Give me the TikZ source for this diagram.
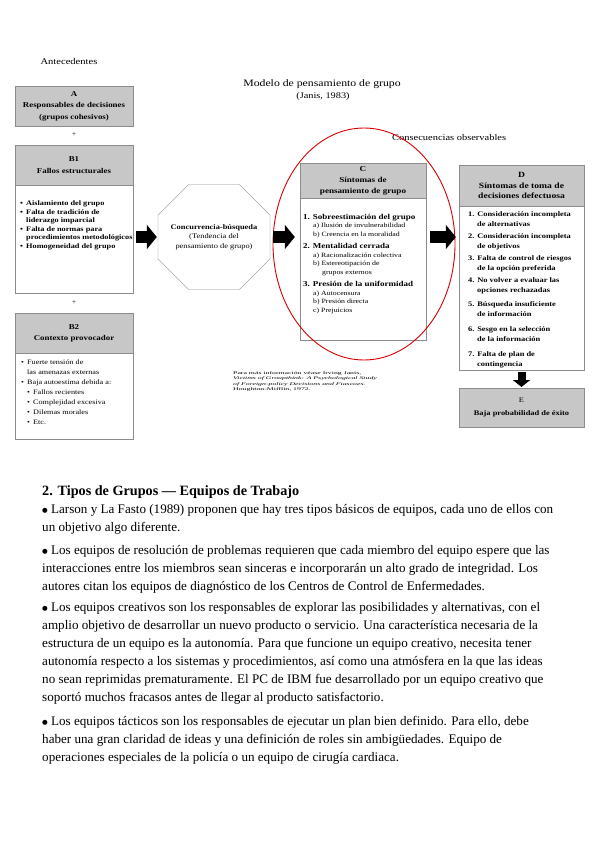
\documentclass[tikz,border=0pt]{standalone}
\usepackage{fontspec}
\setmainfont{Liberation Serif}
\newfontfamily\diagfont[FakeStretch=1.2]{Liberation Serif}
\newfontfamily\notefont[FakeStretch=1.9]{Liberation Serif}
\newfontfamily\symfont{DejaVu Sans}
\usetikzlibrary{shapes,arrows.meta}
\newcommand{\bitem}[1]{\makebox[6pt][l]{•}#1}
\newcommand{\bcont}[1]{\hspace*{6pt}#1}
\newcommand{\sitem}[1]{\hspace*{6pt}\makebox[6pt][l]{•}#1}
\newcommand{\bigdot}{\raisebox{1.2pt}{\symfont\fontsize{6.5}{7}\selectfont ●}}

\begin{document}
\begin{tikzpicture}[x=1pt,y=-1pt,
  hdrbox/.style={rectangle,draw=black!45,fill=black!22,minimum width=#1,minimum height=40pt,anchor=north,align=center,inner sep=1pt,font=\fontsize{7.4}{11.5}\selectfont\diagfont\bfseries},
  hdrbox/.default=118pt,
  bodybox/.style={rectangle,draw=black!45,fill=white,minimum width=#1,anchor=north,inner sep=0pt},
  bodybox/.default=118pt,
  itemtext/.style={anchor=north west,align=left,inner sep=0pt,font=\fontsize{6.5}{8.5}\selectfont\diagfont},
  fatarrow/.style={line width=12pt,-{Triangle[length=10pt,width=24pt]}},
  para/.style={anchor=north west,align=left,inner sep=0pt,font=\fontsize{13.1}{18}\selectfont},
]
\useasboundingbox (0,0) rectangle (600,848);
\fill[white] (0,0) rectangle (600,848);

\node[font=\fontsize{8.8}{10}\selectfont\diagfont] (ante) at (69,61) {Antecedentes};
\node[font=\fontsize{9.8}{11}\selectfont\diagfont] (model) at (322,84) {Modelo de pensamiento de grupo};
\node[font=\fontsize{8.6}{9}\selectfont\diagfont] (janis) at (323,96) {(Janis, 1983)};
\node[anchor=west,inner sep=0pt,font=\fontsize{8.7}{9}\selectfont\diagfont] (conse) at (392,138) {Consecuencias observables};

% antecedentes
\node[hdrbox] (A) at (74,86) {A\\Responsables de decisiones\\(grupos cohesivos)};
\node[font=\fontsize{7}{8}\selectfont] (plusA) at (74,135) {+};
\node[hdrbox] (B1) at (74,145) {B1\\Fallos estructurales};
\node[bodybox,minimum height=108pt] (B1body) at (74,185) {};
\node[itemtext,font=\fontsize{6.9}{8.5}\selectfont\diagfont\bfseries] (B1list) at (20,199.5) {\strut\bitem{Aislamiento del grupo}\\
  \bitem{Falta de tradición de}\\ \bcont{liderazgo imparcial}\\
  \bitem{Falta de normas para}\\ \bcont{procedimientos metodológicos}\\
  \bitem{Homogeneidad del grupo}};
\node[font=\fontsize{7}{8}\selectfont] (plusB) at (74,303) {+};
\node[hdrbox] (B2) at (74,313) {B2\\Contexto provocador};
\node[bodybox,minimum height=86pt] (B2body) at (74,353) {};
\node[itemtext,font=\fontsize{6.8}{10}\selectfont\diagfont] (B2list) at (21,357.5) {\strut\bitem{Fuerte tensión de}\\
  \bcont{las amenazas externas}\\ \bitem{Baja autoestima debida a:}\\
  \sitem{Fallos recientes}\\ \sitem{Complejidad excesiva}\\
  \sitem{Dilemas morales}\\ \sitem{Etc.}};

% busqueda
\node[chamfered rectangle,chamfered rectangle xsep=18pt,chamfered rectangle ysep=18pt,draw=black!45,minimum width=102pt,minimum height=105pt,inner sep=0pt,align=center,font=\fontsize{7}{9.5}\selectfont\diagfont] (oct) at (214,237)
  {\textbf{Concurrencia-búsqueda}\\(Tendencia del\\pensamiento de grupo)};

% sintomas
\node[hdrbox=126pt,minimum height=35pt,font=\fontsize{7.6}{11}\selectfont\diagfont\bfseries] (C) at (363,163) {C\\Síntomas de\\pensamiento de grupo};
\node[bodybox=126pt,minimum height=142pt] (Cbody) at (363,198) {};
\node[itemtext] (Clist) at (303,213) {\strut{\fontsize{7.5}{8.5}\selectfont\bfseries 1. Sobreestimación del grupo}\\
  \hspace*{10pt}a) Ilusión de invulnerabilidad\\ \hspace*{10pt}b) Creencia en la moralidad\\[4pt]
  {\fontsize{7.5}{8.5}\selectfont\bfseries 2. Mentalidad cerrada}\\ \hspace*{10pt}a) Racionalización colectiva\\
  \hspace*{10pt}b) Estereotipación de\\ \hspace*{19pt}grupos externos\\[4pt]
  {\fontsize{7.5}{8.5}\selectfont\bfseries 3. Presión de la uniformidad}\\ \hspace*{10pt}a) Autocensura\\
  \hspace*{10pt}b) Presión directa\\ \hspace*{10pt}c) Prejuicios};
\draw[red!85!black,line width=0.9pt] (364,244) ellipse [x radius=91pt,y radius=116pt];

\node[hdrbox=125pt,minimum height=41pt,font=\fontsize{8}{10.5}\selectfont\diagfont\bfseries] (D) at (521.5,165) {D\\Síntomas de toma de\\decisiones defectuosa};
\node[bodybox=125pt,minimum height=164pt] (Dbody) at (521.5,206) {};
\node[itemtext,font=\fontsize{7}{10}\selectfont\diagfont\bfseries] (Dlist) at (468,209.6) {\strut 1. Consideración incompleta\\ \hspace*{9pt}de alternativas\\[2pt]
  2. Consideración incompleta\\ \hspace*{9pt}de objetivos\\[2pt]
  3. Falta de control de riesgos\\ \hspace*{9pt}de la opción preferida\\[2pt]
  4. No volver a evaluar las\\ \hspace*{9pt}opciones rechazadas\\[4pt]
  5. Búsqueda insuficiente\\ \hspace*{9pt}de información\\[5pt]
  6. Sesgo en la selección\\ \hspace*{9pt}de la información\\[5pt]
  7. Falta de plan de\\ \hspace*{9pt}contingencia};
\node[hdrbox=125pt,minimum height=39pt,font=\fontsize{7}{13}\selectfont\diagfont] (E) at (521.5,388) {E\\\textbf{Baja probabilidad de éxito}};

\draw[fatarrow,shorten <=3pt,shorten >=1pt] (B1body.east |- oct.west) -- (oct.west);
\draw[fatarrow,shorten <=3pt,shorten >=5pt] (oct.east) -- (oct.east -| Cbody.west);
\draw[fatarrow,shorten <=4pt,shorten >=3pt] (oct.east -| Cbody.east) -- (oct.east -| Dbody.west);
\draw[line width=8pt,-{Triangle[length=7pt,width=17pt]},shorten <=2pt,shorten >=1pt] (Dbody.south) -- (E.north);

\node[anchor=north west,align=left,inner sep=0pt,font=\fontsize{4.1}{5.6}\selectfont\notefont] (note) at (233,370) {\strut Para más información véase Irving Janis,\\
  \textit{Victims of Groupthink: A Psychological Study}\\
  \textit{of Foreign-policy Decisions and Fiascoes.}\\
  Houghton-Mifflin, 1972.};

% texto
\node[anchor=west,inner sep=0pt,font=\fontsize{14.2}{16}\selectfont\bfseries] (tipos) at (42,492) {2. Tipos de Grupos — Equipos de Trabajo};
\node[para] (larson) at (42,500.4) {\strut\bigdot\ Larson y La Fasto (1989) proponen que hay tres tipos básicos de equipos, cada uno de ellos con\\
  un objetivo algo diferente.};
\node[para] (resol) at (42,541.4) {\strut\bigdot\ Los equipos de resolución de problemas requieren que cada miembro del equipo espere que las\\
  interacciones entre los miembros sean sinceras e incorporarán un alto grado de integridad. Los\\
  autores citan los equipos de diagnóstico de los Centros de Control de Enfermedades.};
\node[para] (creat) at (42,598.4) {\strut\bigdot\ Los equipos creativos son los responsables de explorar las posibilidades y alternativas, con el\\
  amplio objetivo de desarrollar un nuevo producto o servicio. Una característica necesaria de la\\
  estructura de un equipo es la autonomía. Para que funcione un equipo creativo, necesita tener\\
  autonomía respecto a los sistemas y procedimientos, así como una atmósfera en la que las ideas\\
  no sean reprimidas prematuramente. El PC de IBM fue desarrollado por un equipo creativo que\\
  soportó muchos fracasos antes de llegar al producto satisfactorio.};
\node[para] (tact) at (42,712.4) {\strut\bigdot\ Los equipos tácticos son los responsables de ejecutar un plan bien definido. Para ello, debe\\
  haber una gran claridad de ideas y una definición de roles sin ambigüedades. Equipo de\\
  operaciones especiales de la policía o un equipo de cirugía cardiaca.};
\end{tikzpicture}
\end{document}
